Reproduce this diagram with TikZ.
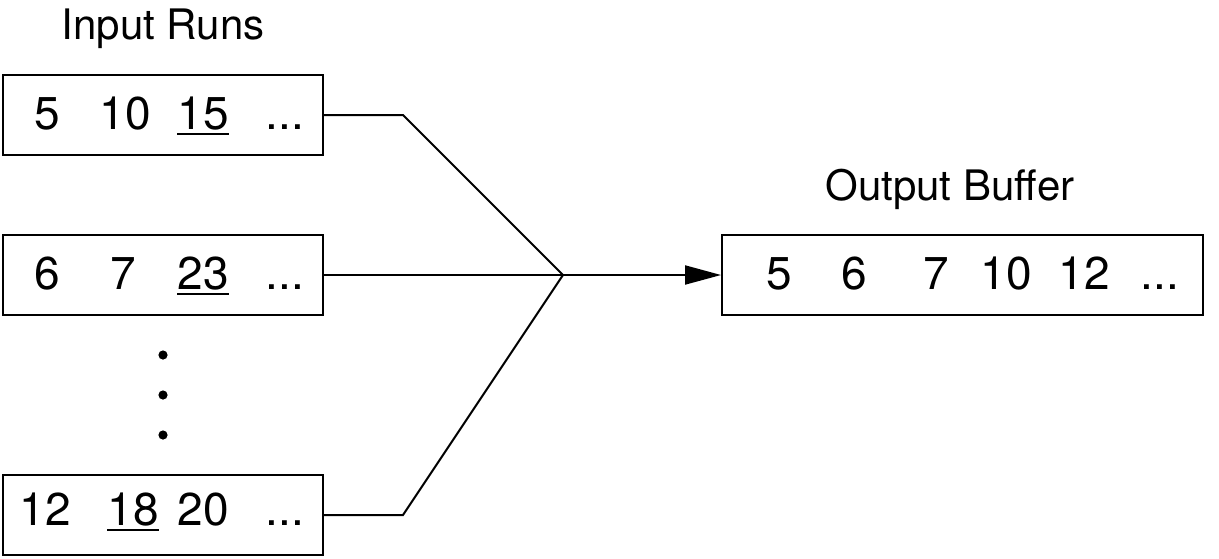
\documentclass[tikz,border=0pt]{standalone}
\usepackage{fontspec}
\setmainfont{TeX Gyre Heros}
\usetikzlibrary{arrows.meta}
\newcommand\uline[1]{\leavevmode\setbox0\hbox{#1}\rlap{\rule[-3pt]{\wd0}{1pt}}\box0}

\begin{document}
\begin{tikzpicture}[x=0.5pt,y=-0.5pt,line width=1pt,
  label/.style={anchor=base,inner sep=0pt,font=\fontsize{21}{25}\selectfont},
  num/.style={anchor=base,inner sep=0pt,font=\fontsize{23}{27}\selectfont},
  buffer/.style={draw,rectangle,inner sep=0pt,minimum height=40pt}]
\useasboundingbox (0,0) rectangle (1219,558);
% captions
\node [label] (inlabel) at (163,39) {Input Runs};
\node [label] (outlabel) at (950,200) {Output Buffer};
% input runs
\node [buffer,minimum width=160pt] (run1) at (163,115) {};
\node [buffer,minimum width=160pt] (run2) at (163,275) {};
\node [buffer,minimum width=160pt] (run3) at (163,515) {};
\node [num] (r1a) at (47,129) {5};
\node [num] (r1b) at (125,129) {10};
\node [num] (r1c) at (203,129) {\uline{15}};
\node [num] (r1d) at (285,129) {...};
\node [num] (r2a) at (47,289) {6};
\node [num] (r2b) at (123,289) {7};
\node [num] (r2c) at (203,289) {\uline{23}};
\node [num] (r2d) at (285,289) {...};
\node [num] (r3a) at (45,525) {12};
\node [num] (r3b) at (133,525) {\uline{18}};
\node [num] (r3c) at (203,525) {20};
\node [num] (r3d) at (285,525) {...};
% vertical dots
\fill (163,355) circle (2.3pt);
\fill (163,395) circle (2.3pt);
\fill (163,435) circle (2.3pt);
% output buffer
\node [buffer,minimum width=240.5pt] (out) at (962.5,275) {};
\node [num] (o1) at (779,289) {5};
\node [num] (o2) at (854,289) {6};
\node [num] (o3) at (936,289) {7};
\node [num] (o4) at (1006,289) {10};
\node [num] (o5) at (1084,289) {12};
\node [num] (o6) at (1160,289) {...};
% merge lines
\coordinate (merge) at (563,275);
\coordinate (bend1) at (403,115);
\coordinate (bend3) at (403,515);
\draw (run1.east) -- (bend1) -- (merge);
\draw (run2.east) -- (merge);
\draw (run3.east) -- (bend3) -- (merge);
\draw [-{Triangle[length=18pt,width=9.5pt]}] (merge) -- (out.west);
\end{tikzpicture}
\end{document}
